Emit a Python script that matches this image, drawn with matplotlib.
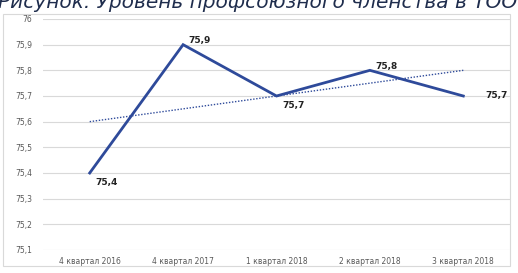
import numpy as np
import matplotlib
matplotlib.use("Agg")
import matplotlib.pyplot as plt
from matplotlib.patches import Rectangle

title = "Рисунок. Уровень профсоюзного членства в ТОО"
quarters = ["4 квартал 2016", "4 квартал 2017", "1 квартал 2018",
            "2 квартал 2018", "3 квартал 2018"]
values = [75.4, 75.9, 75.7, 75.8, 75.7]
y_ticks = [75.1, 75.2, 75.3, 75.4, 75.5, 75.6, 75.7, 75.8, 75.9, 76.0]

line_color = "#2e4a9a"

fig = plt.figure(figsize=(5.18, 2.73), dpi=100)
W, H = 518, 273

# chart frame
fig.patches.append(Rectangle((3 / W, 1 - 266 / H), 507 / W, 252 / H,
                             transform=fig.transFigure, fill=False,
                             edgecolor="#d9d9d9", linewidth=0.8))

# title, cropped at top of the picture (as in the source scan)
fig.text(-0.004, 1 - 3 / H, title, fontsize=14.5, style="italic",
         color="#1f2d4d", ha="left", va="center")

ax = fig.add_axes([43 / W, 1 - 250 / H, 467 / W, 231 / H])
x = np.arange(len(quarters))

# linear trend
k, b = np.polyfit(x, values, 1)
ax.plot(x, k * x + b, linestyle=(0, (1, 1.2)), color=line_color, linewidth=1.0)
ax.plot(x, values, color=line_color, linewidth=2.0, solid_joinstyle="miter")

offsets = [(4, -7), (4, 3), (4, -7), (4, 3), (16, 0)]
for xi, v, (dx, dy) in zip(x, values, offsets):
    ax.annotate(f"{v:.1f}".replace(".", ","), (xi, v), xytext=(dx, dy),
                textcoords="offset points", fontsize=6.5, fontweight="bold",
                color="#222222", ha="left", va="center")

ax.set_xlim(-0.5, len(quarters) - 0.5)
ax.set_ylim(75.1, 76.0)
ax.set_yticks(y_ticks)
ax.set_yticklabels([f"{t:.1f}".replace(".", ",").replace(",0", "") for t in y_ticks])
ax.set_xticks(x)
ax.set_xticklabels(quarters)
ax.tick_params(axis="both", labelsize=5.5, colors="#595959", length=0)
ax.tick_params(axis="y", pad=8)
ax.tick_params(axis="x", pad=5)
ax.grid(axis="y", color="#d9d9d9", linewidth=0.8)
ax.set_axisbelow(True)
for s in ax.spines.values():
    s.set_visible(False)

fig.savefig("out.png", dpi=100)
